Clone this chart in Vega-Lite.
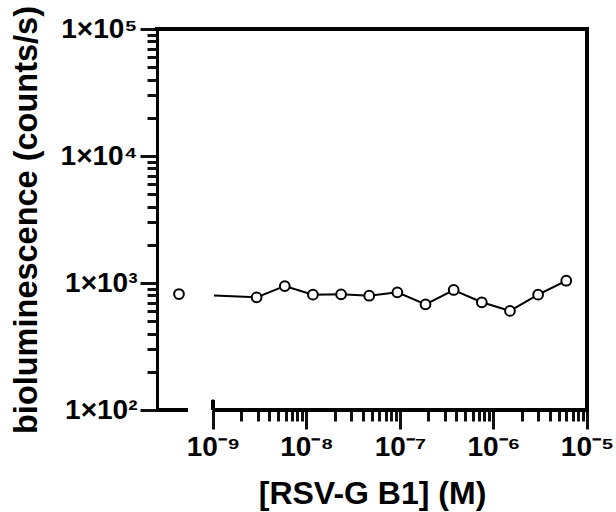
{
  "$schema": "https://vega.github.io/schema/vega-lite/v6.json",
  "width": 430,
  "height": 381,
  "autosize": {"type": "none"},
  "padding": {"left": 157, "top": 29, "right": 29, "bottom": 102},
  "config": {
    "view": {"stroke": null},
    "font": "Liberation Sans",
    "axis": {"labelFont": "Liberation Sans", "titleFont": "Liberation Sans", "grid": false, "tickCap": "butt", "tickOpacity": 1}
  },
  "data": {
    "values": [
      {"conc": 4.33e-10, "signal": 819, "group": "control"},
      {"conc": 2.9296875e-9, "signal": 771, "group": "RSV-G B1"},
      {"conc": 5.859375e-9, "signal": 946, "group": "RSV-G B1"},
      {"conc": 1.171875e-8, "signal": 809, "group": "RSV-G B1"},
      {"conc": 2.34375e-8, "signal": 815, "group": "RSV-G B1"},
      {"conc": 4.6875e-8, "signal": 794, "group": "RSV-G B1"},
      {"conc": 9.375e-8, "signal": 845, "group": "RSV-G B1"},
      {"conc": 1.875e-7, "signal": 679, "group": "RSV-G B1"},
      {"conc": 3.75e-7, "signal": 881, "group": "RSV-G B1"},
      {"conc": 7.5e-7, "signal": 705, "group": "RSV-G B1"},
      {"conc": 1.5e-6, "signal": 603, "group": "RSV-G B1"},
      {"conc": 3e-6, "signal": 809, "group": "RSV-G B1"},
      {"conc": 6e-6, "signal": 1042, "group": "RSV-G B1"}
    ]
  },
  "resolve": {"axis": {"x": "independent", "y": "independent"}},
  "layer": [
    {
      "mark": {"type": "line", "color": "black", "strokeWidth": 2, "strokeDash": [0, 35, 3000]},
      "encoding": {
        "x": {
          "field": "conc", "type": "quantitative",
          "scale": {"type": "log", "domain": [2.52e-10, 1e-5], "nice": false},
          "axis": {
            "orient": "bottom",
            "title": "[RSV-G B1] (M)",
            "titleFontSize": 32, "titleFontWeight": "bold", "titleColor": "black",
            "titleX": 215, "titleY": 93, "titleBaseline": "alphabetic", "titleAnchor": "middle", "titleAlign": "center",
            "domain": false,
            "values": [1e-9, 1e-8, 1e-7, 1e-6, 1e-5],
            "ticks": true, "tickColor": "#111111", "tickWidth": 3, "tickSize": 19,
            "labelExpr": "datum.value == 1e-9 ? '10⁻⁹' : datum.value == 1e-8 ? '10⁻⁸' : datum.value == 1e-7 ? '10⁻⁷' : datum.value == 1e-6 ? '10⁻⁶' : '10⁻⁵'",
            "labelFontSize": 28, "labelFontWeight": "bold", "labelColor": "black",
            "labelPadding": 4, "labelOverlap": false, "labelBound": false, "labelFlush": false
          }
        },
        "y": {
          "field": "signal", "type": "quantitative",
          "scale": {"type": "log", "domain": [100, 100000], "nice": false},
          "axis": {
            "orient": "left",
            "title": "bioluminescence (counts/s)",
            "titleFontSize": 32.5, "titleFontWeight": "bold", "titleColor": "black",
            "titleX": -121, "titleY": 190.5, "titleAngle": -90, "titleBaseline": "alphabetic", "titleAlign": "center",
            "domain": true, "domainColor": "black", "domainWidth": 3,
            "values": [100, 1000, 10000, 100000],
            "tickColor": "#111111", "tickWidth": 3, "tickSize": 17,
            "labelExpr": "datum.value == 100 ? '1×10²' : datum.value == 1000 ? '1×10³' : datum.value == 10000 ? '1×10⁴' : '1×10⁵'",
            "labelFontSize": 28, "labelFontWeight": "bold", "labelColor": "black",
            "labelPadding": 3, "labelOverlap": false, "labelBound": false, "labelFlush": false,
            "labelBaseline": "middle"
          }
        }
      }
    },
    {
      "mark": {"type": "point", "shape": "circle", "filled": true, "fill": "white", "stroke": "black", "strokeWidth": 2, "size": 95, "opacity": 1},
      "encoding": {
        "x": {
          "field": "conc", "type": "quantitative",
          "axis": {
            "orient": "bottom",
            "title": null, "domain": false, "labels": false,
            "values": [2e-9, 3e-9, 4e-9, 5e-9, 6e-9, 7e-9, 8e-9, 9e-9,
                       2e-8, 3e-8, 4e-8, 5e-8, 6e-8, 7e-8, 8e-8, 9e-8,
                       2e-7, 3e-7, 4e-7, 5e-7, 6e-7, 7e-7, 8e-7, 9e-7,
                       2e-6, 3e-6, 4e-6, 5e-6, 6e-6, 7e-6, 8e-6, 9e-6],
            "ticks": true, "tickColor": "#111111", "tickWidth": 3, "tickSize": 11
          }
        },
        "y": {
          "field": "signal", "type": "quantitative",
          "axis": {
            "orient": "left",
            "title": null, "domain": false, "labels": false,
            "values": [200, 300, 400, 500, 600, 700, 800, 900,
                       2000, 3000, 4000, 5000, 6000, 7000, 8000, 9000,
                       20000, 30000, 40000, 50000, 60000, 70000, 80000, 90000],
            "ticks": true, "tickColor": "#111111", "tickWidth": 3, "tickSize": 10
          }
        }
      }
    },
    {
      "mark": {"type": "rule", "color": "black", "strokeWidth": 3, "strokeCap": "square"},
      "encoding": {
        "x": {"datum": 2.52e-10, "type": "quantitative", "axis": null},
        "x2": {"datum": 1e-5},
        "y": {"datum": 100000, "type": "quantitative", "axis": null}
      }
    },
    {
      "mark": {"type": "rule", "color": "black", "strokeWidth": 3, "strokeCap": "square"},
      "encoding": {
        "x": {"datum": 1e-5, "type": "quantitative", "axis": null},
        "y": {"datum": 100, "type": "quantitative", "axis": null},
        "y2": {"datum": 100000}
      }
    },
    {
      "mark": {"type": "rule", "color": "black", "strokeWidth": 3},
      "encoding": {
        "x": {"datum": 2.52e-10, "type": "quantitative", "axis": null},
        "x2": {"datum": 5.4e-10},
        "y": {"datum": 100, "type": "quantitative", "axis": null}
      }
    },
    {
      "mark": {"type": "rule", "color": "black", "strokeWidth": 3},
      "encoding": {
        "x": {"datum": 1e-9, "type": "quantitative", "axis": null},
        "x2": {"datum": 1e-5},
        "y": {"datum": 100, "type": "quantitative", "axis": null}
      }
    },
    {
      "mark": {"type": "rule", "color": "black", "strokeWidth": 3},
      "encoding": {
        "x": {"datum": 1e-9, "type": "quantitative", "axis": null},
        "y": {"datum": 100, "type": "quantitative", "axis": null},
        "y2": {"datum": 120}
      }
    }
  ]
}
